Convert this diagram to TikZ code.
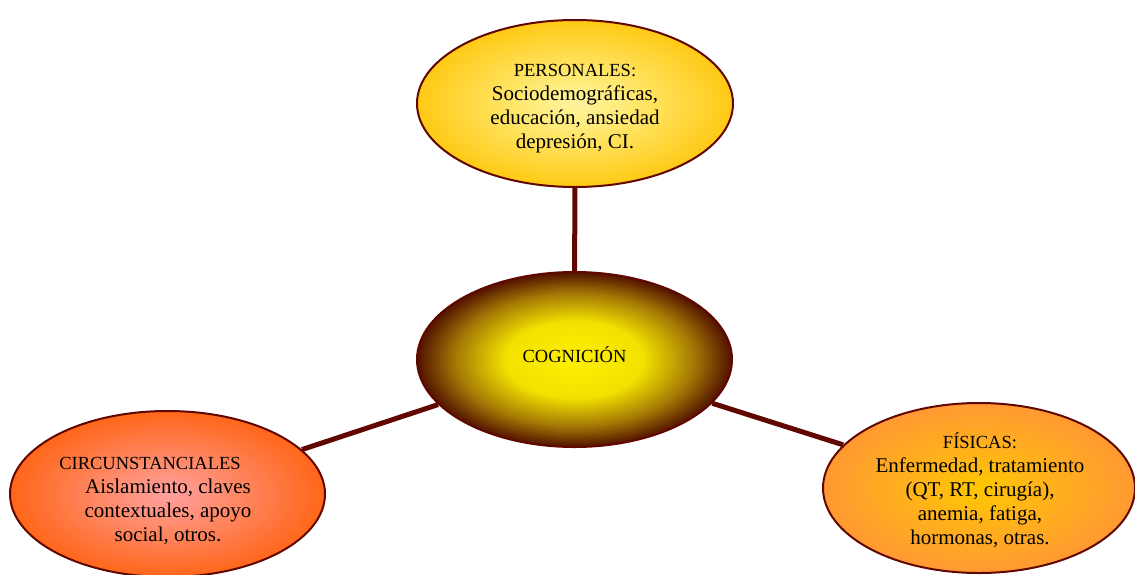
\documentclass[tikz,border=0pt]{standalone}
\usepackage{fontspec}
\setmainfont{Liberation Serif}
\usetikzlibrary{shapes.geometric}
\definecolor{maroon}{RGB}{96,8,0}
\pgfdeclareradialshading{topshade}{\pgfpointorigin}{rgb(0bp)=(1,0.95,0.62); rgb(6bp)=(1,0.93,0.5); rgb(25bp)=(1,0.79,0.08); rgb(50bp)=(1,0.79,0.08)}
\pgfdeclareradialshading{cogshade}{\pgfpointorigin}{rgb(0bp)=(1,0.94,0); rgb(11bp)=(0.95,0.88,0); rgb(19bp)=(0.64,0.47,0.02); rgb(25bp)=(0.32,0.07,0); rgb(50bp)=(0.32,0.07,0)}
\pgfdeclareradialshading{leftshade}{\pgfpointorigin}{rgb(0bp)=(1,0.63,0.63); rgb(6bp)=(1,0.58,0.5); rgb(25bp)=(1,0.4,0.1); rgb(50bp)=(1,0.4,0.1)}
\pgfdeclareradialshading{rightshade}{\pgfpointorigin}{rgb(0bp)=(1,0.78,0); rgb(8bp)=(1,0.72,0.08); rgb(25bp)=(1,0.6,0.2); rgb(50bp)=(1,0.6,0.2)}
\tikzset{
  bubble/.style={ellipse, draw=maroon, line width=2pt, inner sep=0pt},
  txt/.style={align=center, inner sep=0pt, text=black, font=\fontsize{21}{24}\selectfont},
  link/.style={draw=maroon, line width=5pt},
}
\newcommand{\hd}[1]{{\fontsize{18.5}{24}\selectfont #1}}
\begin{document}
\begin{tikzpicture}[x=1pt,y=-1pt]
\useasboundingbox (0,0) rectangle (1135,574);
\clip (0,0) rectangle (1135,574);
\node[bubble, shading=topshade, minimum width=316pt, minimum height=167pt] (per) at (575,103.5) {};
\node[bubble, shading=cogshade, minimum width=315pt, minimum height=175pt] (cog) at (574.5,359.5) {};
\node[bubble, shading=leftshade, minimum width=315pt, minimum height=166pt] (cir) at (167.5,494) {};
\node[bubble, shading=rightshade, minimum width=312pt, minimum height=170pt] (fis) at (979,488) {};
\draw[link] (per) -- (cog);
\draw[link] (cir) -- (cog);
\draw[link] (fis) -- (cog);
\node[txt] (pert) at (575,109) {\hd{PERSONALES:}\\Sociodemográficas,\\educación, ansiedad\\depresión, CI.};
\node[txt] (cogt) at (574.5,355) {\hd{COGNICIÓN}};
\node[txt] (cirt) at (168,501) {\hd{CIRCUNSTANCIALES}\hspace*{36pt}\\Aislamiento, claves\\contextuales, apoyo\\social, otros.};
\node[txt] (fist) at (980,490) {\hd{FÍSICAS:}\\Enfermedad, tratamiento\\(QT, RT, cirugía),\\anemia, fatiga,\\hormonas, otras.};
\end{tikzpicture}
\end{document}
